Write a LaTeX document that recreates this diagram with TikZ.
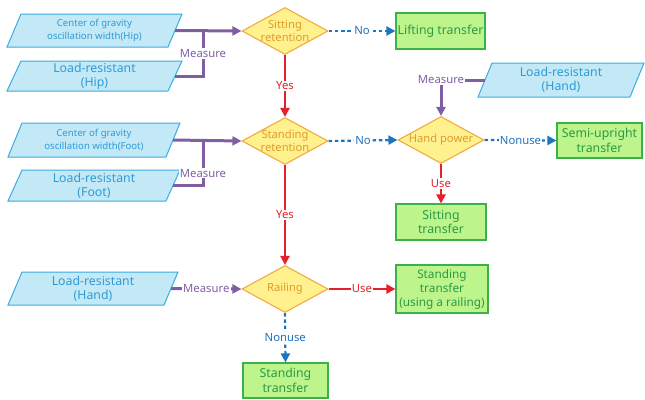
\documentclass[tikz,border=0pt]{standalone}
\usepackage{fontspec}
\setmainfont{Noto Sans}
\usetikzlibrary{shapes.geometric,arrows.meta}
\definecolor{pfill}{HTML}{C4E9F6}
\definecolor{pline}{HTML}{3AADE0}
\definecolor{ptext}{HTML}{2E9BD6}
\definecolor{dfill}{HTML}{FFF28E}
\definecolor{dline}{HTML}{F2A93E}
\definecolor{dtext}{HTML}{E39A2E}
\definecolor{bfill}{HTML}{BDF48C}
\definecolor{bline}{HTML}{3BB14B}
\definecolor{btext}{HTML}{2B9A45}
\definecolor{mcol}{HTML}{7E5FA4}
\definecolor{rcol}{HTML}{E4202A}
\definecolor{ncol}{HTML}{1F74BF}
\tikzset{
  pgramshape/.style={fill=pfill, draw=pline, line width=1pt, line join=miter},
  pgramtext/.style={inner sep=0pt, text=ptext, align=center, font=\fontsize{12.3}{14}\selectfont},
  smalltext/.style={font=\fontsize{9.6}{12.5}\selectfont},
  decision/.style={diamond, draw=dline, fill=dfill, line width=1.1pt, minimum width=86pt, minimum height=47pt, inner sep=0pt},
  dlab/.style={text=dtext, align=center, font=\fontsize{11.2}{13.5}\selectfont, inner sep=0pt},
  result/.style={rectangle, draw=bline, fill=bfill, line width=1.1pt, inner sep=0pt, text=btext, align=center, font=\fontsize{12.3}{14.5}\selectfont},
  meas/.style={draw=mcol, line width=3pt, -{Triangle[length=9pt,width=9pt]}},
  measline/.style={draw=mcol, line width=3pt},
  mlab/.style={text=mcol, fill=white, inner sep=1.2pt, font=\fontsize{11.3}{13}\selectfont},
  yesarr/.style={draw=rcol, line width=2.6pt, -{Triangle[length=9pt,width=9pt]}},
  ylab/.style={text=rcol, fill=white, inner sep=1.2pt, font=\fontsize{11.3}{13}\selectfont},
  noarr/.style={draw=ncol, line width=2.2pt, dash pattern=on 3.5pt off 2.8pt, -{Triangle[length=9pt,width=9pt]}},
  nlab/.style={text=ncol, fill=white, inner sep=1.2pt, font=\fontsize{11.3}{13}\selectfont},
}
\newcommand\pgram[7][]{%
  \filldraw[pgramshape] ({#3-#5/2+7},{#4-#6/2}) -- ({#3+#5/2+7},{#4-#6/2}) -- ({#3+#5/2-7},{#4+#6/2}) -- ({#3-#5/2-7},{#4+#6/2}) -- cycle;
  \node[pgramtext, minimum width=#5pt, minimum height=#6pt, #1] (#2) at (#3,#4) {#7};
}
\begin{document}
\begin{tikzpicture}[x=1pt,y=-1pt]
\useasboundingbox (0,0) rectangle (645,399);

% input parallelograms
\pgram[smalltext]{P1}{94.5}{30.5}{161}{33}{Center of gravity\\oscillation width(Hip)}
\pgram{P2}{94.5}{76}{161}{30}{Load-resistant\\(Hip)}
\pgram[smalltext]{P3}{94}{140}{158}{34}{Center of gravity\\oscillation width(Foot)}
\pgram{P4}{94}{185.5}{158}{31}{Load-resistant\\(Foot)}
\pgram{P5}{561}{80}{152}{34}{Load-resistant\\(Hand)}
\pgram{P6}{93}{288.5}{156}{33}{Load-resistant\\(Hand)}

% decisions
\node[decision, label={[dlab]center:Sitting\\retention}] (D1) at (285,31) {};
\node[decision, label={[dlab]center:Standing\\retention}] (D2) at (285,141) {};
\node[decision, label={[dlab]center:Hand power}] (D3) at (441,140) {};
\node[decision, label={[dlab]center:Railing}] (D4) at (285,289) {};

% results
\node[result, minimum width=89pt, minimum height=36pt] (B1) at (440.5,31) {Lifting transfer};
\node[result, minimum width=85pt, minimum height=35pt] (B2) at (599.5,140.5) {Semi-upright\\transfer};
\node[result, minimum width=90pt, minimum height=36pt] (B3) at (441,222) {Sitting\\transfer};
\node[result, minimum width=92pt, minimum height=48pt, font=\fontsize{11.8}{14}\selectfont] (B4) at (442,289) {Standing\\transfer\\(using a railing)};
\node[result, minimum width=85pt, minimum height=35pt] (B5) at (285.5,380.5) {Standing\\transfer};

% measure connectors
\coordinate (J1) at (203,31);
\coordinate (J2) at (203,141);
\draw[meas] (P1.east) -- (D1.west);
\draw[measline] (P2.east) -| (J1) node[pos=0.75, mlab] {Measure};
\draw[meas] (P3.east) -- (D2.west);
\draw[measline] (P4.east) -| (J2) node[pos=0.64, mlab] {Measure};
\draw[meas] (P5.west) -| node[pos=0.5, mlab] {Measure} (D3.north);
\draw[meas] (P6.east) -- node[mlab] {Measure} (D4.west);

% yes / use
\draw[yesarr] (D1.south) -- node[ylab] {Yes} (D2.north);
\draw[yesarr] (D2.south) -- node[ylab] {Yes} (D4.north);
\draw[yesarr] (D3.south) -- node[ylab] {Use} (B3.north);
\draw[yesarr] (D4.east) -- node[ylab] {Use} (B4.west);

% no / nonuse
\draw[noarr] (D1.east) -- node[nlab] {No} (B1.west);
\draw[noarr] (D2.east) -- node[nlab] {No} (D3.west);
\draw[noarr] (D3.east) -- node[nlab] {Nonuse} (B2.west);
\draw[noarr] (D4.south) -- node[nlab] {Nonuse} (B5.north);
\end{tikzpicture}
\end{document}
